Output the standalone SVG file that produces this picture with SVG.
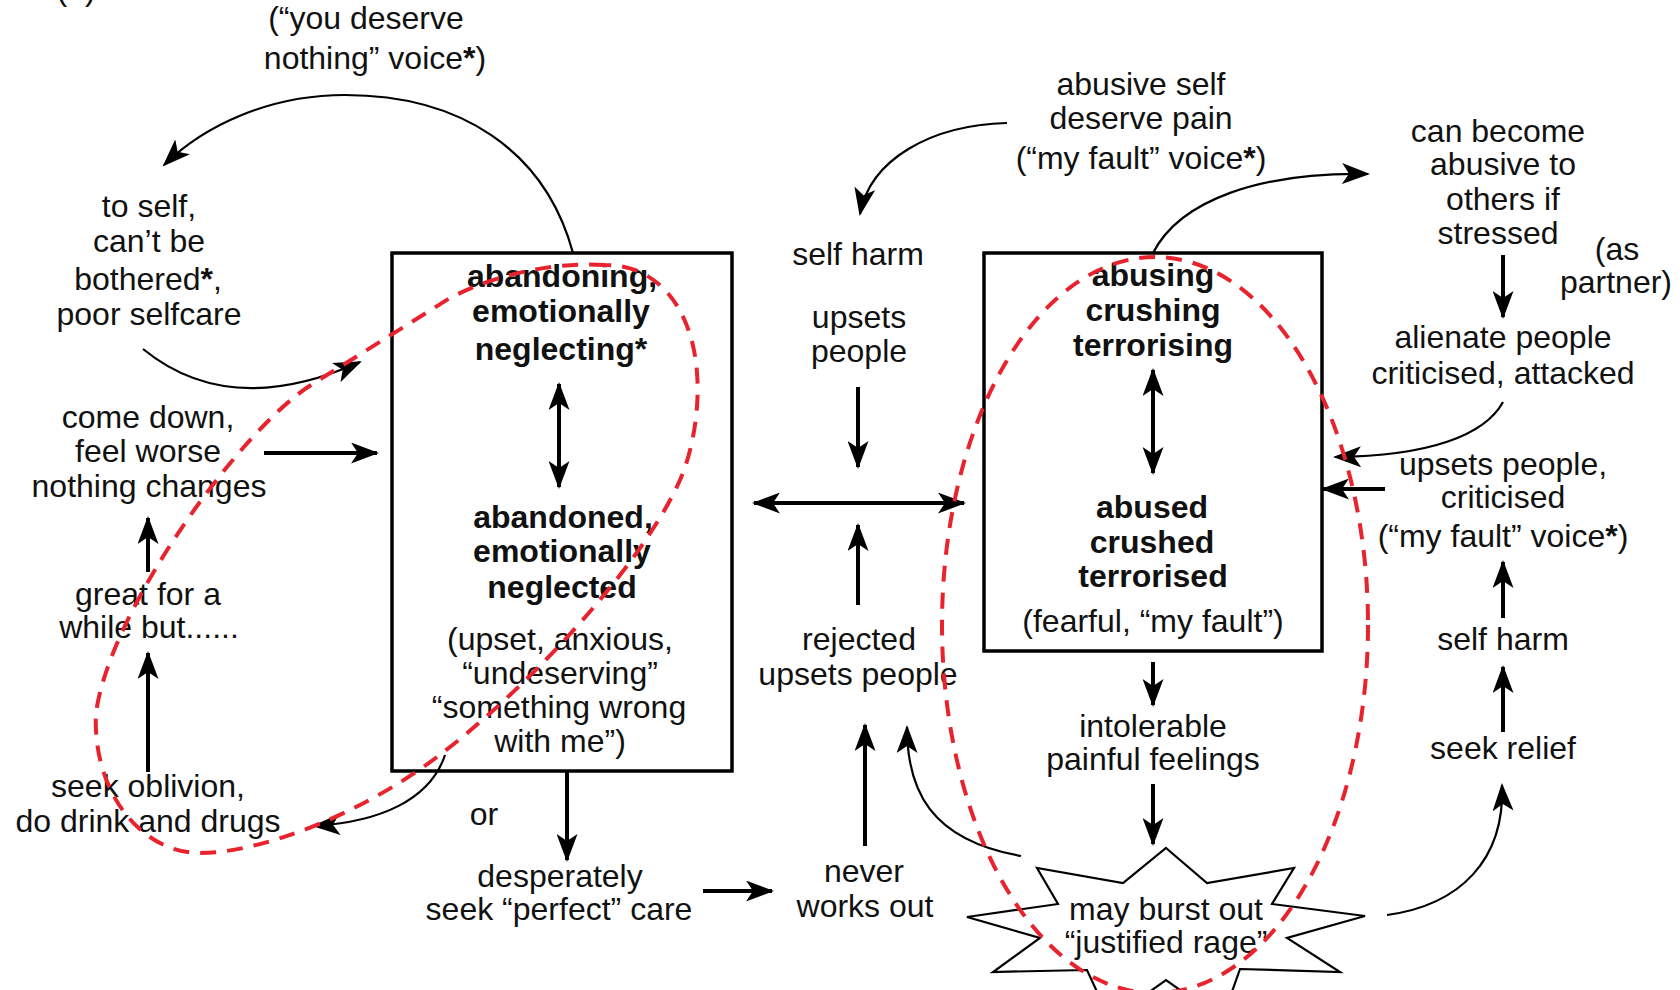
<svg xmlns="http://www.w3.org/2000/svg" width="1680" height="990" viewBox="0 0 1680 990">
<defs>
<style>
.t{font-family:"Liberation Sans",Arial,Helvetica,sans-serif;font-size:32px;fill:#111;text-anchor:middle}
.b{font-weight:bold}
.st{font-weight:bold}
.box{fill:none;stroke:#000;stroke-width:3.5}
.arr{fill:none;stroke:#000;stroke-width:4;marker-end:url(#ah)}
.dbl{fill:none;stroke:#000;stroke-width:4;marker-end:url(#ah);marker-start:url(#ahs)}
.cur{fill:none;stroke:#000;stroke-width:2.2;marker-end:url(#ah)}
.dash{fill:none;stroke:#e8232d;stroke-width:4;stroke-dasharray:16 11}
.burst{fill:#fff;stroke:#000;stroke-width:2.2;stroke-linejoin:miter}
</style>
<marker id="ah" viewBox="0 0 28 21" markerWidth="28" markerHeight="21" refX="26" refY="10.5" orient="auto" markerUnits="userSpaceOnUse">
<path d="M0,0 L28,10.5 L0,21 L7,10.5 z" fill="#000"/>
</marker>
<marker id="ahs" viewBox="0 0 28 21" markerWidth="28" markerHeight="21" refX="2" refY="10.5" orient="auto" markerUnits="userSpaceOnUse">
<path d="M28,0 L0,10.5 L28,21 L21,10.5 z" fill="#000"/>
</marker>
</defs>
<rect width="1680" height="990" fill="#fff"/>

<g id="label-a"><text class="t" x="76" y="0">(a)</text></g>

<g id="voice-nothing">
<text class="t" x="366" y="29">(“you deserve</text>
<text class="t" x="375" y="69">nothing” voice<tspan class="st">*</tspan>)</text>
</g>

<g id="poor-selfcare">
<text class="t" x="149" y="217">to self,</text>
<text class="t" x="149" y="252">can’t be</text>
<text class="t" x="148" y="290">bothered<tspan class="st">*</tspan>,</text>
<text class="t" x="149" y="325">poor selfcare</text>
</g>

<g id="come-down">
<text class="t" x="148" y="428">come down,</text>
<text class="t" x="148" y="462">feel worse</text>
<text class="t" x="149" y="497">nothing changes</text>
</g>

<g id="great-while">
<text class="t" x="148" y="605">great for a</text>
<text class="t" x="149" y="638">while but......</text>
</g>

<g id="seek-oblivion">
<text class="t" x="148" y="797">seek oblivion,</text>
<text class="t" x="148" y="832">do drink and drugs</text>
</g>

<g id="or-label"><text class="t" x="484" y="825">or</text></g>

<g id="abandon-box">
<rect class="box" x="392" y="253" width="340" height="518"/>
<text class="t b" x="562" y="287">abandoning,</text>
<text class="t b" x="561" y="322">emotionally</text>
<text class="t b" x="561" y="360">neglecting*</text>
<text class="t b" x="563" y="528">abandoned,</text>
<text class="t b" x="562" y="562">emotionally</text>
<text class="t b" x="562" y="598">neglected</text>
<text class="t" x="560" y="650">(upset, anxious,</text>
<text class="t" x="560" y="684">“undeserving”</text>
<text class="t" x="559" y="718">“something wrong</text>
<text class="t" x="560" y="752">with me”)</text>
</g>

<g id="desperately">
<text class="t" x="560" y="887">desperately</text>
<text class="t" x="559" y="920">seek “perfect” care</text>
</g>

<g id="never-works">
<text class="t" x="864" y="882">never</text>
<text class="t" x="865" y="917">works out</text>
</g>

<g id="rejected">
<text class="t" x="859" y="650">rejected</text>
<text class="t" x="858" y="685">upsets people</text>
</g>

<g id="self-harm-mid">
<text class="t" x="858" y="265">self harm</text>
<text class="t" x="859" y="328">upsets</text>
<text class="t" x="859" y="362">people</text>
</g>

<g id="abusive-self">
<text class="t" x="1141" y="95">abusive self</text>
<text class="t" x="1141" y="129">deserve pain</text>
<text class="t" x="1141" y="169">(“my fault” voice<tspan class="st">*</tspan>)</text>
</g>

<g id="abuse-box">
<rect class="box" x="984" y="253" width="338" height="398"/>
<text class="t b" x="1153" y="286">abusing</text>
<text class="t b" x="1153" y="321">crushing</text>
<text class="t b" x="1153" y="356">terrorising</text>
<text class="t b" x="1152" y="518">abused</text>
<text class="t b" x="1152" y="553">crushed</text>
<text class="t b" x="1153" y="587">terrorised</text>
<text class="t" x="1153" y="632">(fearful, “my fault”)</text>
</g>

<g id="intolerable">
<text class="t" x="1153" y="737">intolerable</text>
<text class="t" x="1153" y="770">painful feelings</text>
</g>

<g id="rage">
<polygon class="burst" points="1166,848 1207,883 1294,868 1272,904 1365,916 1287,938 1340,972 1240,969 1222,1020 1166,980 1110,1020 1087,970 993,972 1040,938 967,917 1058,904 1037,868 1123,883"/>
<text class="t" x="1166" y="920">may burst out</text>
<text class="t" x="1166" y="953">“justified rage”</text>
</g>

<g id="can-become">
<text class="t" x="1498" y="142">can become</text>
<text class="t" x="1503" y="175">abusive to</text>
<text class="t" x="1503" y="210">others if</text>
<text class="t" x="1498" y="244">stressed</text>
</g>

<g id="as-partner">
<text class="t" x="1617" y="260">(as</text>
<text class="t" x="1616" y="293">partner)</text>
</g>

<g id="alienate">
<text class="t" x="1503" y="348">alienate people</text>
<text class="t" x="1503" y="384">criticised, attacked</text>
</g>

<g id="upsets-criticised">
<text class="t" x="1503" y="475">upsets people,</text>
<text class="t" x="1503" y="508">criticised</text>
<text class="t" x="1503" y="547">(“my fault” voice<tspan class="st">*</tspan>)</text>
</g>

<g id="self-harm-right"><text class="t" x="1503" y="650">self harm</text></g>
<g id="seek-relief"><text class="t" x="1503" y="759">seek relief</text></g>

<g id="connectors">
<path class="arr" d="M264,453 L377,453"/>
<path class="arr" d="M148,572 L148,518"/>
<path class="arr" d="M148,772 L148,653"/>
<path class="arr" d="M567,772 L567,860"/>
<path class="arr" d="M703,891 L772,891"/>
<path class="arr" d="M865,846 L865,725"/>
<path class="arr" d="M858,605 L858,525"/>
<path class="arr" d="M858,387 L858,467"/>
<path class="dbl" d="M754,503 L964,503"/>
<path class="dbl" d="M559,384 L559,487"/>
<path class="dbl" d="M1153,370 L1153,473"/>
<path class="arr" d="M1153,662 L1153,705"/>
<path class="arr" d="M1153,784 L1153,844"/>
<path class="arr" d="M1503,732 L1503,667"/>
<path class="arr" d="M1503,618 L1503,562"/>
<path class="arr" d="M1503,255 L1503,317"/>
<path class="arr" d="M1385,489 L1323,489"/>
<path class="cur" d="M573,253 C545,150 460,95 345,95 C270,95 205,125 164,165"/>
<path class="cur" d="M143,349 Q230,420 360,362"/>
<path class="cur" d="M445,755 C430,800 380,822 314,826"/>
<path class="cur" d="M1007,123 C930,125 870,160 860,214"/>
<path class="cur" d="M1153,253 C1180,200 1260,172 1368,174"/>
<path class="cur" d="M1503,402 C1485,435 1430,456 1335,457"/>
<path class="cur" d="M1021,856 C930,840 907,790 907,727"/>
<path class="cur" d="M1387,915 C1460,905 1505,860 1502,785"/>
</g>

<g id="red-loops">
<path class="dash" d="M605,265 C560,262 500,272 450,298 L311,385 C240,430 110,610 96,713 C92,790 140,853 200,853 C260,853 360,815 437,757 C520,695 640,570 680,480 C700,435 712,340 665,290 C645,270 625,265 605,265 Z"/>
<ellipse class="dash" cx="1155" cy="625" rx="213" ry="368"/>
</g>
</svg>
